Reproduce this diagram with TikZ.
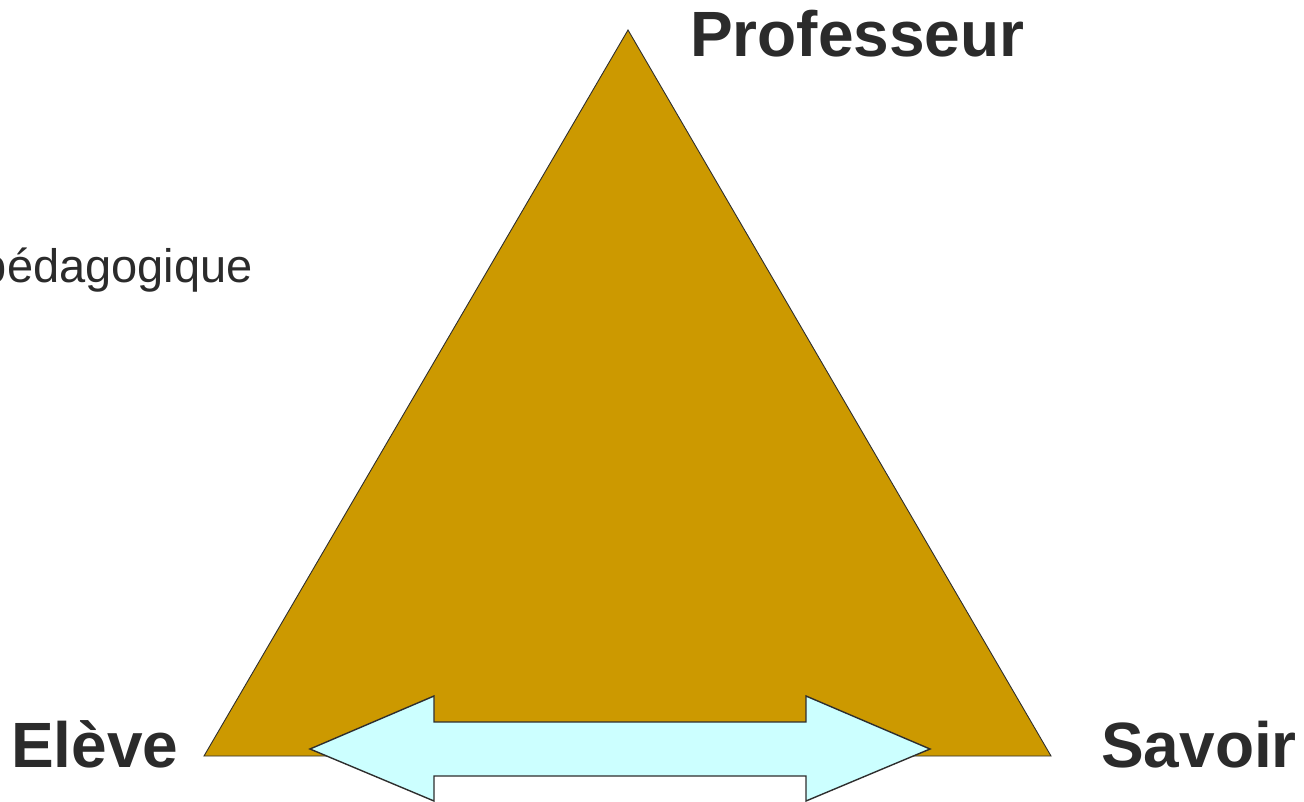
\documentclass[tikz,border=0pt]{standalone}
\usepackage{fontspec}
\setmainfont{Liberation Sans}
\begin{document}
\begin{tikzpicture}[x=1pt,y=-1pt,
  lbl/.style={text=txtgray, inner sep=0pt, font=\fontsize{64}{70}\selectfont\bfseries},
  small/.style={text=txtgray, inner sep=0pt, font=\fontsize{47}{52}\selectfont}]
\definecolor{gold}{HTML}{CC9900}
\definecolor{cyanl}{HTML}{CCFFFF}
\definecolor{txtgray}{HTML}{2B2B2B}
\definecolor{edge}{HTML}{2E2E2E}
\useasboundingbox (0,0) rectangle (1304,802);
\clip (0,0) rectangle (1304,802);
% triangle
\coordinate (P) at (628,30);
\coordinate (E) at (204,756);
\coordinate (S) at (1051,756);
\draw[fill=gold, draw=edge, line width=0.9pt, line join=miter] (P) -- (S) -- (E) -- cycle;
% double arrow
\draw[fill=cyanl, draw=edge, line width=1.4pt, line join=miter]
  (310,749) -- (434,696) -- (434,722) -- (806,722) -- (806,696) -- (930,749)
  -- (806,801) -- (806,776) -- (434,776) -- (434,801) -- cycle;
% labels
\node[lbl, anchor=base west] (prof) at (690,57) {Professeur};
\node[lbl, anchor=base west] (eleve) at (11,767) {Elève};
\node[lbl, anchor=base west] (savoir) at (1101,767) {Savoir};
\node[small, anchor=base east] (peda) at (253,283) {pédagogique};
\end{tikzpicture}
\end{document}
